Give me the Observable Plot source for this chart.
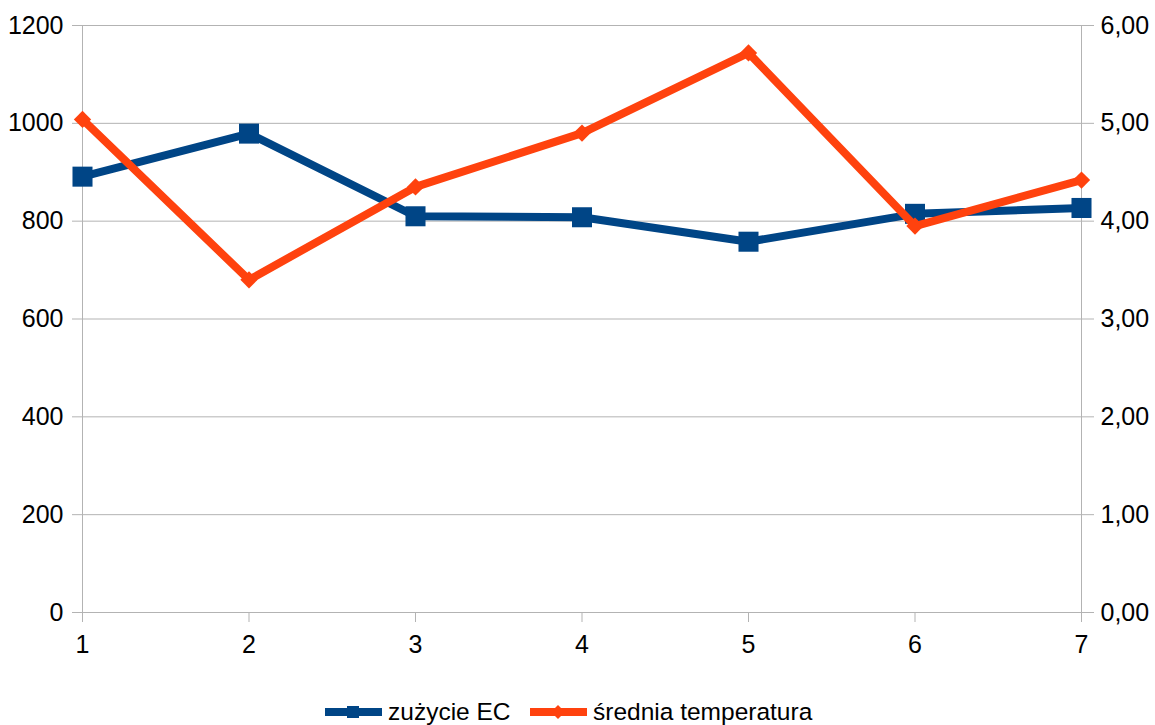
<!DOCTYPE html>
<html>
<head>
<meta charset="utf-8">
<script src="https://cdn.jsdelivr.net/npm/d3@7"></script>
<script src="https://cdn.jsdelivr.net/npm/@observablehq/plot@0.6"></script>
<style>
  html, body { margin: 0; padding: 0; background: #fff; }
  body { width: 1155px; height: 725px; overflow: hidden; font-family: "Liberation Sans", Arial, sans-serif; }
  #chart svg { display: block; }
  .legend { position: relative; height: 65px; font-size: 24.5px; color: #000; }
  .legend .item { position: absolute; top: 40px; display: flex; align-items: center; height: 24px; }
  .legend svg { display: block; margin-right: 6px; }
</style>
</head>
<body>
<div id="chart"></div>
<div class="legend" id="legend"></div>
<script>
// Monthly points (1–7)
const months = [1, 2, 3, 4, 5, 6, 7];
// Energy consumption (left axis)
const consumption = [891, 979, 810, 808, 758, 815, 827];
// Average temperature (right axis)
const temperature = [5.04, 3.40, 4.35, 4.90, 5.72, 3.95, 4.42];

const leftTicks = [0, 200, 400, 600, 800, 1000, 1200];
const rightTicks = [0, 1, 2, 3, 4, 5, 6];

const seriesNames = ["zużycie EC", "średnia temperatura"];
const blue = "#004586";
const orange = "#ff420e";
const grid = "#b3b3b3";

// Right axis domain [0, 6] is drawn on the left scale [0, 1200]
const ratio = 1200 / 6;

const ec = months.map((m, i) => ({month: m, value: consumption[i]}));
const temp = months.map((m, i) => ({month: m, value: temperature[i] * ratio}));

const axisText = {fontSize: 25, fill: "#000", stroke: grid, strokeOpacity: 1, label: null};

const chart = Plot.plot({
  width: 1155,
  height: 660,
  marginLeft: 82,
  marginRight: 74,
  marginTop: 25,
  marginBottom: 48,
  style: {fontFamily: "Liberation Sans, Arial, sans-serif", fontSize: "25px", color: "#000", background: "#fff"},
  x: {type: "linear", domain: [1, 7]},
  y: {domain: [0, 1200]},
  marks: [
    Plot.ruleY(leftTicks, {stroke: grid, strokeWidth: 1}),
    Plot.ruleX([1, 7], {stroke: grid, strokeWidth: 1}),
    Plot.axisY({...axisText, ticks: leftTicks, tickSize: 10, tickPadding: 9, tickFormat: d => String(d)}),
    Plot.axisY({...axisText, anchor: "right", ticks: rightTicks.map(t => t * ratio), tickSize: 12, tickPadding: 7,
      tickFormat: d => (d / ratio).toFixed(2).replace(".", ",")}),
    Plot.axisX({...axisText, ticks: months, tickSize: 10, tickPadding: 13, tickFormat: d => String(d)}),
    Plot.line(ec, {x: "month", y: "value", stroke: blue, strokeWidth: 8}),
    Plot.dot(ec, {x: "month", y: "value", symbol: "square", r: 11.3, fill: blue, stroke: "none"}),
    Plot.line(temp, {x: "month", y: "value", stroke: orange, strokeWidth: 8}),
    Plot.dot(temp, {x: "month", y: "value", symbol: "diamond2", r: 7.8, fill: orange, stroke: "none"})
  ]
});
document.getElementById("chart").append(chart);

// Legend below the chart
const legend = document.getElementById("legend");
const items = [
  {name: seriesNames[0], color: blue, shape: "square", left: 325},
  {name: seriesNames[1], color: orange, shape: "diamond", left: 530}
];
for (const it of items) {
  const div = document.createElement("div");
  div.className = "item";
  div.style.left = it.left + "px";
  const marker = it.shape === "square"
    ? `<rect x="22" y="6" width="12" height="12" fill="${it.color}"/>`
    : `<path d="M28 5 L35 12 L28 19 L21 12 Z" fill="${it.color}"/>`;
  div.innerHTML = `<svg width="57" height="24"><rect x="0" y="8" width="57" height="8" fill="${it.color}"/>${marker}</svg><span>${it.name}</span>`;
  legend.append(div);
}
</script>
</body>
</html>
